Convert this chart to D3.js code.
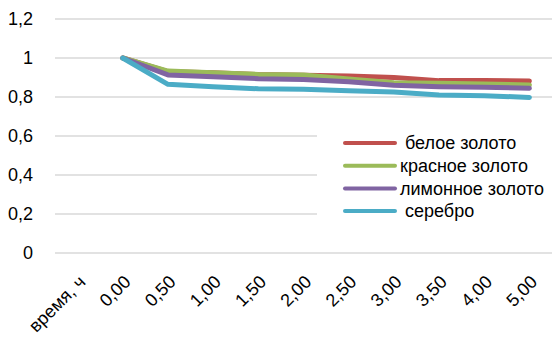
<!DOCTYPE html>
<html><head><meta charset="utf-8">
<script src="https://cdn.jsdelivr.net/npm/d3@7"></script>
<style>
body{margin:0;background:#fff;}
text{font-family:"Liberation Sans",Arial,sans-serif;fill:#000;}
</style></head>
<body><svg id="c" width="552" height="338"></svg>
<script>
const categories = ["время, ч","0,00","0,50","1,00","1,50","2,00","2,50","3,00","3,50","4,00","5,00"];
const seriesNames = [" белое золото","красное золото","лимонное золото"," серебро"];
const seriesColors = ["#C0504D","#9BBB59","#8064A2","#4BACC6"];
const beloe   = [null,1,0.930,0.925,0.915,0.912,0.908,0.900,0.884,0.884,0.882];
const krasnoe = [null,1,0.933,0.925,0.916,0.913,0.892,0.873,0.870,0.867,0.862];
const limonnoe= [null,1,0.913,0.904,0.894,0.890,0.878,0.860,0.853,0.850,0.845];
const serebro = [null,1,0.865,0.853,0.842,0.840,0.832,0.826,0.810,0.807,0.798];
const yTicks = [0,0.2,0.4,0.6,0.8,1,1.2];
const yTickLabels = ["0","0,2","0,4","0,6","0,8","1","1,2"];

const series = [beloe,krasnoe,limonnoe,serebro];
const svg = d3.select("#c");
const L=55, R=552, T=19, B=253;
const FS=18;
const x = d3.scaleBand().domain(categories).range([L,R]);
const y = d3.scaleLinear().domain([0,1.2]).range([B,T]);

// gridlines
svg.append("g").selectAll("line").data(yTicks).join("line")
  .attr("x1",L).attr("x2",R).attr("y1",d=>y(d)).attr("y2",d=>y(d))
  .attr("stroke","#d9d9d9").attr("stroke-width",1.5);

// y labels
svg.append("g").selectAll("text").data(yTicks).join("text")
  .attr("x",33).attr("y",d=>y(d)).attr("dy","0.35em")
  .attr("text-anchor","end").attr("font-size",FS).text((d,i)=>yTickLabels[i]);

// x labels
svg.append("g").selectAll("text").data(categories).join("text")
  .attr("transform",d=>`translate(${x(d)+x.bandwidth()/2+9},${B+30}) rotate(-45)`)
  .attr("text-anchor","end").attr("font-size",FS).text(d=>d);

// lines
const line = d3.line().defined(d=>d.v!=null)
  .x(d=>x(d.c)+x.bandwidth()/2).y(d=>y(d.v));
series.forEach((s,i)=>{
  svg.append("path").datum(s.map((v,j)=>({c:categories[j],v})))
    .attr("d",line).attr("fill","none").attr("stroke",seriesColors[i])
    .attr("stroke-width",5).attr("stroke-linecap","round").attr("stroke-linejoin","round");
});

// legend
const lg = svg.append("g");
lg.append("rect").attr("x",317).attr("y",130).attr("width",235).attr("height",95).attr("fill","#fff");
seriesNames.forEach((n,i)=>{
  const yy = 143 + i*22.7;
  lg.append("line").attr("x1",345).attr("x2",395).attr("y1",yy).attr("y2",yy)
    .attr("stroke",seriesColors[i]).attr("stroke-width",4).attr("stroke-linecap","round");
  lg.append("text").attr("x",400).attr("y",yy).attr("dy","0.35em").attr("font-size",FS)
    .style("white-space","pre").text(n);
});
</script></body></html>
